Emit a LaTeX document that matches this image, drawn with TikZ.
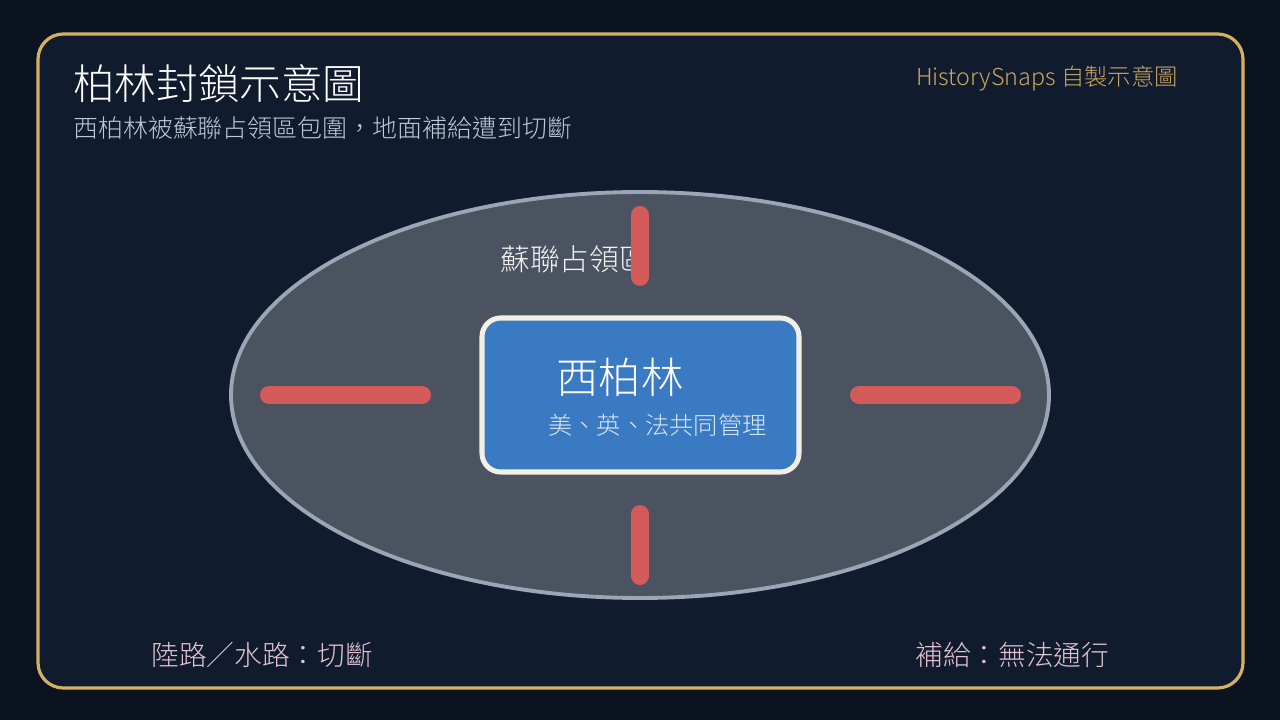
\documentclass[tikz,border=0pt]{standalone}
\usepackage{fontspec}
\usepackage{tikz}
\usetikzlibrary{positioning}
\newfontfamily\cjk{Noto Sans CJK TC Light}
\definecolor{pagebg}{HTML}{0B1321}
\definecolor{panelbg}{HTML}{101B2D}
\definecolor{gold}{HTML}{D4B062}
\definecolor{zonefill}{HTML}{4B5361}
\definecolor{zoneline}{HTML}{9AA6B6}
\definecolor{barred}{HTML}{D55B5B}
\definecolor{westblue}{HTML}{3A7AC2}
\definecolor{westline}{HTML}{F2F0E6}
\definecolor{subgrey}{HTML}{BFC8D6}
\definecolor{notepink}{HTML}{E3C3D3}
\definecolor{markgold}{HTML}{C8A860}
\tikzset{
    label text/.style={inner sep=0pt, anchor=west},
    block bar/.style={barred, line width=13.5pt, line cap=round}
}

\begin{document}
\begin{tikzpicture}[x=0.75pt,y=-0.75pt]
    \fill[pagebg] (0,0) rectangle (1280,720);
    \draw[gold, fill=panelbg, line width=2.4pt, rounded corners=19pt] (38,34) rectangle (1243,688);

    \node (title) [label text, white] at (73,84) {\cjk\fontsize{31.2pt}{36pt}\selectfont 柏林封鎖示意圖};
    \node (subtitle) [label text, subgrey] at (73,128) {\cjk\fontsize{18.7pt}{22pt}\selectfont 西柏林被蘇聯占領區包圍，地面補給遭到切斷};
    \node (credit) [inner sep=0pt, anchor=east, markgold] at (1178,78) {\cjk\fontsize{17.5pt}{20pt}\selectfont HistorySnaps 自製示意圖};

    % Soviet zone
    \draw[zoneline, fill=zonefill, line width=2.9pt] (640,395) ellipse [x radius=409, y radius=203];
    \node (zone) [label text, white!92!zonefill] at (500,259) {\cjk\fontsize{22.3pt}{26pt}\selectfont 蘇聯占領區};

    % cut routes
    \draw[block bar] (640,215) -- (640,277);
    \draw[block bar] (640,514) -- (640,576);
    \draw[block bar] (269,395) -- (422,395);
    \draw[block bar] (859,395) -- (1012,395);

    % West Berlin
    \draw[westline, fill=westblue, line width=3.8pt, rounded corners=14pt] (482,318) rectangle (799,472);
    \node (west) [label text, white] at (556,377) {\cjk\fontsize{31.8pt}{36pt}\selectfont 西柏林};
    \node (allies) [label text, white!82!westblue] at (548,425) {\cjk\fontsize{18.2pt}{22pt}\selectfont 美、英、法共同管理};

    \node (routes) [label text, notepink] at (151,655) {\cjk\fontsize{20.8pt}{24pt}\selectfont 陸路／水路：切斷};
    \node (supply) [label text, notepink] at (915,655) {\cjk\fontsize{20.8pt}{24pt}\selectfont 補給：無法通行};
\end{tikzpicture}
\end{document}
